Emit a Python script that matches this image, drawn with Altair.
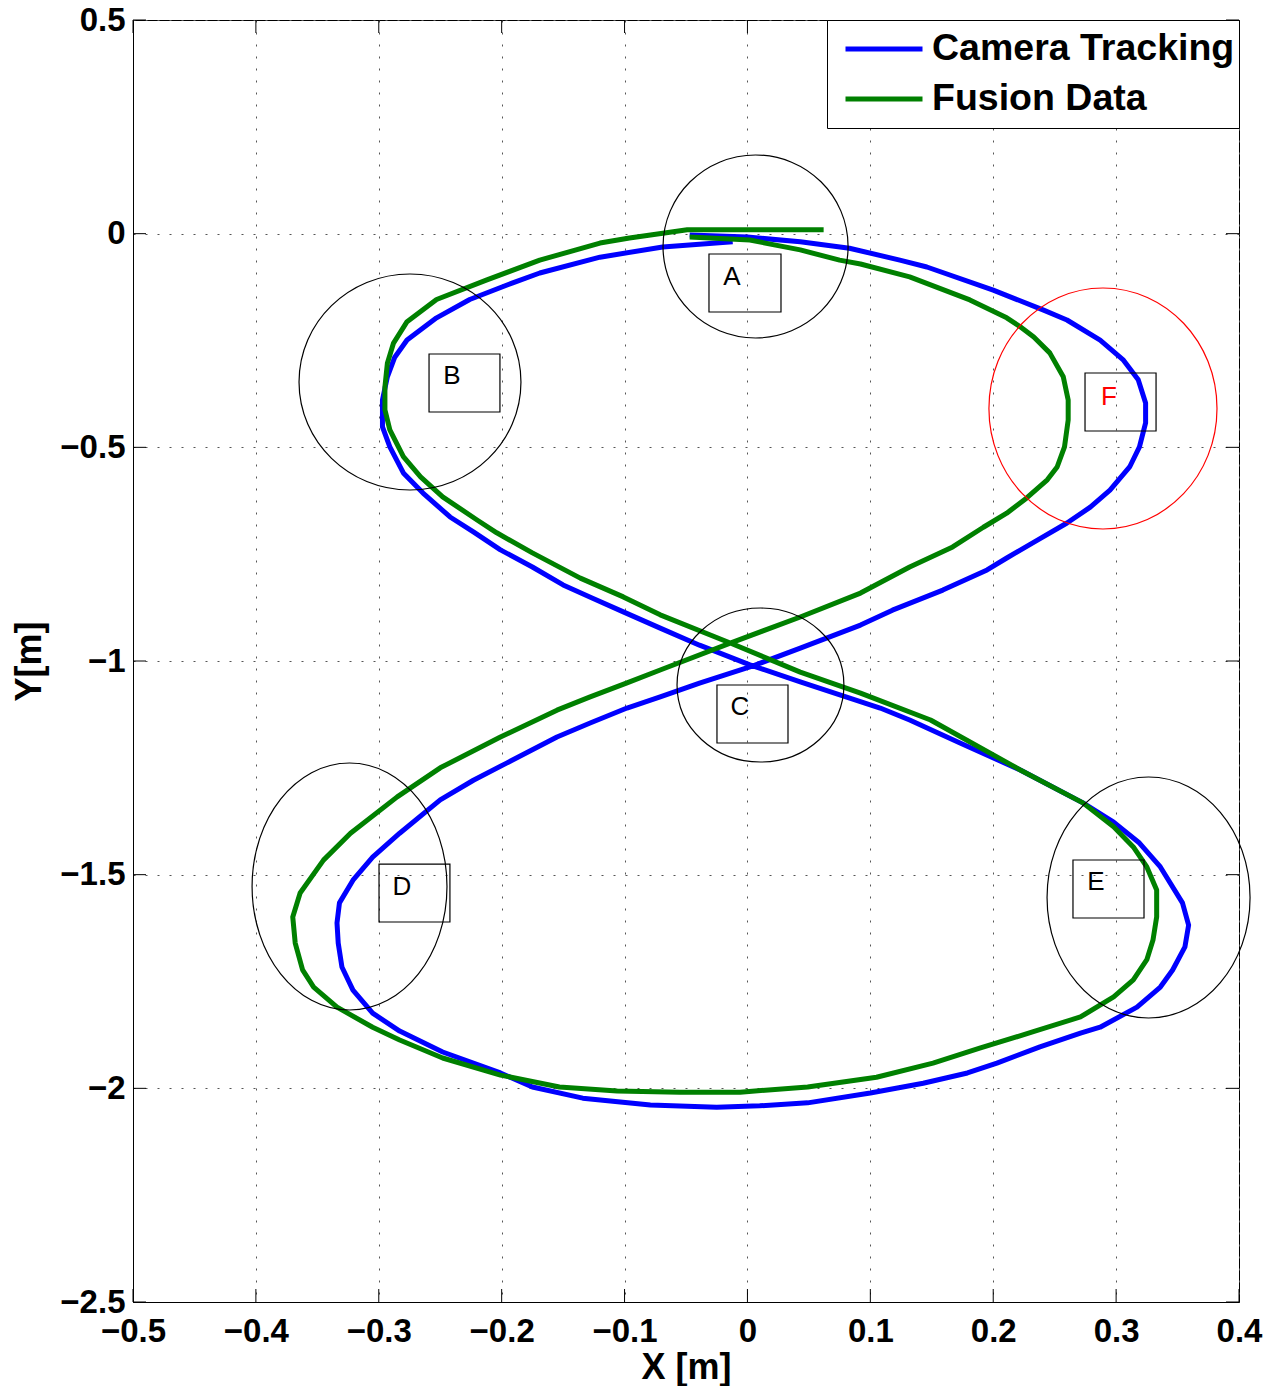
import altair as alt
import pandas as pd

# ---------------- data ----------------
series_names = ["Camera Tracking", "Fusion Data"]
series_colors = ["#0000ff", "#008000"]

cam_x = [-0.047, 0.000, 0.043, 0.083, 0.124, 0.146, 0.200, 0.241, 0.260, 0.287,
         0.306, 0.318, 0.324, 0.324, 0.319, 0.311, 0.295, 0.279, 0.260, 0.236,
         0.211, 0.195, 0.159, 0.118, 0.092, 0.043, 0.002, -0.039, -0.071, -0.098,
         -0.128, -0.155, -0.196, -0.223, -0.250, -0.283, -0.305, -0.321, -0.332, -0.334,
         -0.333, -0.330, -0.321, -0.305, -0.283, -0.248, -0.201, -0.175, -0.134, -0.079,
         -0.025, 0.010, 0.049, 0.100, 0.143, 0.179, 0.203, 0.238, 0.271, 0.287,
         0.317, 0.336, 0.346, 0.356, 0.359, 0.354, 0.336, 0.319, 0.298, 0.273,
         0.222, 0.173, 0.132, 0.108, 0.043, 0.002, -0.039, -0.071, -0.101, -0.126,
         -0.150, -0.175, -0.201, -0.223, -0.242, -0.264, -0.280, -0.291, -0.297, -0.297,
         -0.293, -0.287, -0.277, -0.253, -0.226, -0.191, -0.169, -0.120, -0.069, -0.012]
cam_y = [-0.003, -0.008, -0.019, -0.034, -0.062, -0.078, -0.132, -0.179, -0.202, -0.249,
         -0.296, -0.342, -0.396, -0.443, -0.499, -0.546, -0.600, -0.640, -0.677, -0.717,
         -0.759, -0.787, -0.834, -0.881, -0.916, -0.970, -1.014, -1.052, -1.084, -1.110,
         -1.145, -1.178, -1.239, -1.279, -1.325, -1.403, -1.459, -1.513, -1.566, -1.613,
         -1.660, -1.716, -1.770, -1.824, -1.866, -1.915, -1.964, -1.997, -2.023, -2.039,
         -2.044, -2.041, -2.034, -2.011, -1.988, -1.964, -1.941, -1.903, -1.871, -1.857,
         -1.810, -1.763, -1.723, -1.669, -1.618, -1.566, -1.482, -1.426, -1.377, -1.332,
         -1.255, -1.192, -1.138, -1.110, -1.049, -1.009, -0.963, -0.923, -0.885, -0.853,
         -0.822, -0.780, -0.740, -0.698, -0.663, -0.607, -0.560, -0.499, -0.452, -0.389,
         -0.335, -0.289, -0.249, -0.197, -0.154, -0.115, -0.092, -0.055, -0.031, -0.019]

fus_x = [-0.047, 0.002, 0.043, 0.075, 0.092, 0.132, 0.181, 0.211, 0.222, 0.233,
         0.246, 0.257, 0.261, 0.261, 0.258, 0.252, 0.244, 0.227, 0.211, 0.192,
         0.167, 0.132, 0.092, 0.043, -0.014, -0.071, -0.098, -0.128, -0.155, -0.201,
         -0.250, -0.285, -0.323, -0.345, -0.364, -0.370, -0.368, -0.362, -0.353, -0.334,
         -0.305, -0.283, -0.248, -0.201, -0.153, -0.106, -0.055, -0.006, 0.049, 0.105,
         0.151, 0.189, 0.232, 0.271, 0.298, 0.314, 0.325, 0.330, 0.333, 0.333,
         0.325, 0.314, 0.298, 0.273, 0.222, 0.149, 0.092, 0.043, -0.014, -0.071,
         -0.101, -0.136, -0.175, -0.204, -0.220, -0.248, -0.266, -0.280, -0.291, -0.295,
         -0.295, -0.293, -0.288, -0.277, -0.253, -0.212, -0.169, -0.120, -0.096, -0.049, 0.062]
fus_y = [-0.008, -0.015, -0.038, -0.062, -0.071, -0.101, -0.155, -0.197, -0.218, -0.242,
         -0.279, -0.335, -0.389, -0.436, -0.499, -0.546, -0.576, -0.619, -0.654, -0.687,
         -0.733, -0.780, -0.841, -0.897, -0.958, -1.021, -1.051, -1.084, -1.115, -1.178,
         -1.250, -1.318, -1.403, -1.466, -1.543, -1.599, -1.660, -1.723, -1.763, -1.810,
         -1.857, -1.887, -1.929, -1.969, -1.997, -2.006, -2.009, -2.009, -1.997, -1.974,
         -1.941, -1.906, -1.868, -1.833, -1.786, -1.746, -1.699, -1.653, -1.599, -1.536,
         -1.482, -1.435, -1.388, -1.332, -1.255, -1.138, -1.075, -1.026, -0.958, -0.892,
         -0.850, -0.806, -0.747, -0.700, -0.670, -0.616, -0.569, -0.522, -0.459, -0.412,
         -0.359, -0.303, -0.256, -0.206, -0.154, -0.108, -0.062, -0.022, -0.010, 0.009, 0.009]

x_ticks = [-0.5, -0.4, -0.3, -0.2, -0.1, 0, 0.1, 0.2, 0.3, 0.4]
y_ticks = [-2.5, -2, -1.5, -1, -0.5, 0, 0.5]

# annotated regions: ellipse centre / semi-axes, box corners, label position
region_labels = ["A", "B", "C", "D", "E", "F"]
ell_cx = [0.0066, -0.2746, 0.0106, -0.3238, 0.3264, 0.2893]
ell_cy = [-0.0300, -0.3471, -1.0562, -1.5277, -1.5534, -0.4091]
ell_rx = [0.0753, 0.0903, 0.0679, 0.0793, 0.0826, 0.0928]
ell_ry = [0.2141, 0.2527, 0.1802, 0.2890, 0.2820, 0.2820]
box_x1 = [-0.0313, -0.2591, -0.0248, -0.2998, 0.2649, 0.2747]
box_x2 = [0.0273, -0.2014, 0.0330, -0.2421, 0.3227, 0.3325]
box_y1 = [-0.0476, -0.2816, -1.0562, -1.4751, -1.4657, -0.3260]
box_y2 = [-0.1833, -0.4173, -1.1919, -1.6108, -1.6014, -0.4618]
lab_x = [-0.0126, -0.2404, -0.0061, -0.2811, 0.2836, 0.2942]
lab_y = [-0.1014, -0.3331, -1.1076, -1.5289, -1.5172, -0.3822]

# ---------------- layout ----------------
W, H = 1106, 1282
X_MIN, X_MAX = -0.5, 0.4
Y_MIN, Y_MAX = -2.5, 0.5
PX_X = W / (X_MAX - X_MIN)
PX_Y = H / (Y_MAX - Y_MIN)
FONT = "Liberation Sans"
TICK_LEN = 13
region_colors = ["black", "black", "black", "black", "black", "red"]

x_scale = alt.Scale(domain=[X_MIN, X_MAX], nice=False, zero=False)
y_scale = alt.Scale(domain=[Y_MIN, Y_MAX], nice=False, zero=False)

rows = []
for name, xs, ys in [(series_names[0], cam_x, cam_y), (series_names[1], fus_x, fus_y)]:
    for i, (a, b) in enumerate(zip(xs, ys)):
        rows.append({"series": name, "i": i, "x": a, "y": b})
line_df = pd.DataFrame(rows)

x_axis = alt.Axis(values=x_ticks, format=".1~f", title="X [m]",
                  labelPadding=13, titlePadding=2, labelFlush=False,
                  labelOverlap=False)
y_axis = alt.Axis(values=y_ticks, format=".1~f", title="Y[m]",
                  labelPadding=8, titlePadding=11, labelFlush=False,
                  labelOverlap=False)
X = alt.X("x:Q", scale=x_scale, axis=x_axis)
Y = alt.Y("y:Q", scale=y_scale, axis=y_axis)

lines = alt.Chart(line_df).mark_line(strokeWidth=5, strokeJoin="round").encode(
    x=X,
    y=Y,
    color=alt.Color("series:N",
                    scale=alt.Scale(domain=series_names, range=series_colors),
                    legend=alt.Legend(title=None)),
    order=alt.Order("i:Q"),
)

# ellipses as custom symbol paths (cubic Bezier ellipse in unit box)
K = 0.5523
ell_rows = []
for cx, cy, rx, ry, col in zip(ell_cx, ell_cy, ell_rx, ell_ry, region_colors):
    a = rx * PX_X
    b = ry * PX_Y
    m = max(a, b)
    u, v = a / m, b / m
    ku, kv = K * u, K * v
    path = (f"M {-u:.4f} 0 C {-u:.4f} {-kv:.4f} {-ku:.4f} {-v:.4f} 0 {-v:.4f} "
            f"C {ku:.4f} {-v:.4f} {u:.4f} {-kv:.4f} {u:.4f} 0 "
            f"C {u:.4f} {kv:.4f} {ku:.4f} {v:.4f} 0 {v:.4f} "
            f"C {-ku:.4f} {v:.4f} {-u:.4f} {kv:.4f} {-u:.4f} 0 Z")
    ell_rows.append({"x": cx, "y": cy, "shape": path, "sz": (2 * m) ** 2, "col": col})
ell_df = pd.DataFrame(ell_rows)

ellipses = alt.Chart(ell_df).mark_point(filled=False, strokeWidth=1.2, opacity=1).encode(
    x=X, y=Y,
    shape=alt.Shape("shape:N", scale=None),
    size=alt.Size("sz:Q", scale=None),
    stroke=alt.Stroke("col:N", scale=None),
)

box_df = pd.DataFrame({"x": box_x1, "x2": box_x2, "y": box_y1, "y2": box_y2})
boxes = alt.Chart(box_df).mark_rect(fillOpacity=0, stroke="black", strokeWidth=1.2).encode(
    x=X, x2="x2:Q",
    y=Y, y2="y2:Q",
)

lab_df = pd.DataFrame({"x": lab_x, "y": lab_y, "label": region_labels, "col": region_colors})
labels = alt.Chart(lab_df).mark_text(font=FONT, fontSize=26, align="center",
                                     baseline="middle").encode(
    x=X, y=Y,
    text="label:N",
    fill=alt.Fill("col:N", scale=None),
)

# inward ticks on all four sides
xt_df = pd.DataFrame({"x": x_ticks})
yt_df = pd.DataFrame({"y": y_ticks})
tick_b = alt.Chart(xt_df).mark_rule(color="black", strokeWidth=1).encode(
    x=X, y=alt.value(H), y2=alt.value(H - TICK_LEN))
tick_t = alt.Chart(xt_df).mark_rule(color="black", strokeWidth=1).encode(
    x=X, y=alt.value(0), y2=alt.value(TICK_LEN))
tick_l = alt.Chart(yt_df).mark_rule(color="black", strokeWidth=1).encode(
    y=Y, x=alt.value(0), x2=alt.value(TICK_LEN))
tick_r = alt.Chart(yt_df).mark_rule(color="black", strokeWidth=1).encode(
    y=Y, x=alt.value(W), x2=alt.value(W - TICK_LEN))

chart = alt.layer(
    lines, tick_b, tick_t, tick_l, tick_r, ellipses, boxes, labels
).properties(
    width=W, height=H,
    autosize=alt.AutoSizeParams(type="none"),
    padding={"left": 125, "top": 12, "right": 30, "bottom": 84},
    background="white",
).configure_view(
    stroke="black", strokeWidth=1
).configure_axis(
    grid=True, gridColor="#555555", gridDash=[2, 10], gridWidth=1, gridOpacity=1,
    domainColor="black", domainWidth=1,
    ticks=False, tickSize=0,
    labelFont=FONT, labelFontSize=33, labelFontWeight="bold", labelColor="black",
    titleFont=FONT, titleFontSize=36, titleFontWeight="bold", titleColor="black",
).configure_legend(
    orient="top-right", offset=0, padding=4,
    strokeColor="black", fillColor="white", cornerRadius=0,
    symbolType="stroke", symbolSize=5929, symbolStrokeWidth=5,
    labelFont=FONT, labelFontSize=37.5, labelFontWeight="bold", labelColor="black",
    labelOffset=7, labelLimit=600, rowPadding=-2, symbolOffset=12,
    clipHeight=50,
)

chart.save("out.html", embed_options={"renderer": "svg", "actions": False})
